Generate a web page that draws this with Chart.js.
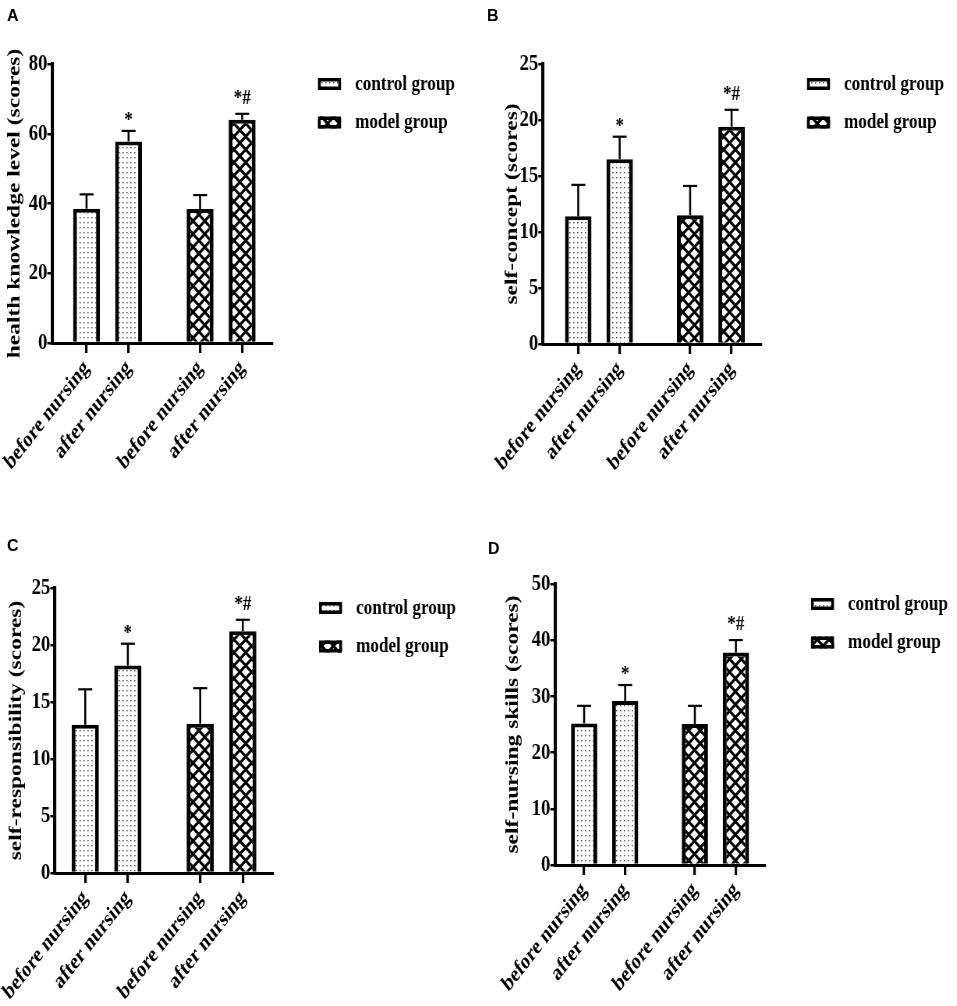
<!DOCTYPE html>
<html><head><meta charset="utf-8">
<script src="https://cdn.jsdelivr.net/npm/chart.js@4.4.1/dist/chart.umd.min.js"></script>
<style>
html,body{margin:0;padding:0;background:#fff;}
#wrap{position:relative;width:957px;height:1006px;overflow:hidden;background:#fff;}
.panel{position:absolute;overflow:visible;}
.panel canvas{position:absolute;left:0;top:0;transform-origin:0 0;}
.plabel{position:absolute;font:bold 16px 'Liberation Sans',Arial,sans-serif;line-height:1;color:#000;}
</style></head><body>
<div id="wrap"></div>
<script>
// ---------- data ----------
const categories = ['before nursing', 'after nursing', 'before nursing', 'after nursing'];
const groupNames = ['control group', 'model group'];
const panelLetters = ['A', 'B', 'C', 'D'];
const panelTitles = ['health knowledge level (scores)', 'self-concept (scores)', 'self-responsibility (scores)', 'self-nursing skills (scores)'];

const yTicksA = [0, 20, 40, 60, 80];
const yTicksB = [0, 5, 10, 15, 20, 25];
const yTicksC = [0, 5, 10, 15, 20, 25];
const yTicksD = [0, 10, 20, 30, 40, 50];

const controlMeanA = [38.5, 57.8];
const controlSdA = [4.4, 3.3];
const modelMeanA = [38.4, 64.0];
const modelSdA = [4.3, 2.0];

const controlMeanB = [11.4, 16.5];
const controlSdB = [2.9, 2.1];
const modelMeanB = [11.5, 19.4];
const modelSdB = [2.7, 1.6];

const controlMeanC = [13.0, 18.2];
const controlSdC = [3.2, 2.0];
const modelMeanC = [13.1, 21.2];
const modelSdC = [3.2, 1.1];

const controlMeanD = [25.2, 29.2];
const controlSdD = [3.3, 3.0];
const modelMeanD = [25.1, 37.8];
const modelSdD = [3.4, 2.4];

const controlMarks = ['', '*'];
const modelMarks = ['', '*#'];

// ---------- layout (reference pixel geometry) ----------
const S = 0.78;            // horizontal squeeze of the figure
const PANEL_H = 503;
const GROUP_STEP = 2.7;    // slot distance between the first bars of the two groups
const FONT = "'Liberation Serif','Times New Roman',serif";
const TITLE_SIZE = 23.5;

const layouts = [
  {left: 0,   top: 0,   w: 478, area: {l: 52, t: 64, r: 272, b: 343}, titleC: 15, xMin: -0.82, label: [7, 8]},
  {left: 478, top: 0,   w: 479, area: {l: 65, t: 64, r: 283, b: 344}, titleC: 34, xMin: -0.85, label: [487, 8]},
  {left: 0,   top: 503, w: 478, area: {l: 55, t: 85, r: 273, b: 370}, titleC: 16, xMin: -0.71, label: [7, 538]},
  {left: 478, top: 503, w: 479, area: {l: 77, t: 81, r: 287, b: 362}, titleC: 35, xMin: -0.71, label: [488, 541]}
];
const X_MAX = 4.41;

const panelData = [
  {yTicks: yTicksA, cm: controlMeanA, cs: controlSdA, mm: modelMeanA, ms: modelSdA},
  {yTicks: yTicksB, cm: controlMeanB, cs: controlSdB, mm: modelMeanB, ms: modelSdB},
  {yTicks: yTicksC, cm: controlMeanC, cs: controlSdC, mm: modelMeanC, ms: modelSdC},
  {yTicks: yTicksD, cm: controlMeanD, cs: controlSdD, mm: modelMeanD, ms: modelSdD}
];

const slots = categories.map((c, i) => Math.floor(i / 2) * GROUP_STEP + (i % 2));

// ---------- patterns ----------
function dotPattern(ctx) {
  const c = document.createElement('canvas');
  c.width = 5; c.height = 5;
  const g = c.getContext('2d');
  g.fillStyle = '#fff'; g.fillRect(0, 0, 5, 5);
  g.fillStyle = '#555'; g.fillRect(2, 2, 1.6, 1.4);
  return ctx.createPattern(c, 'repeat');
}
function diamondPattern(ctx) {
  const w = 15, h = 13, hw = 5.2, hh = 4.5;
  const c = document.createElement('canvas');
  c.width = w; c.height = h;
  const g = c.getContext('2d');
  g.fillStyle = '#000'; g.fillRect(0, 0, w, h);
  g.fillStyle = '#fff';
  const centers = [[w / 2, h / 2], [0, 0], [w, 0], [0, h], [w, h]];
  centers.forEach(([cx, cy]) => {
    g.beginPath();
    g.moveTo(cx, cy - hh); g.lineTo(cx + hw, cy); g.lineTo(cx, cy + hh); g.lineTo(cx - hw, cy);
    g.closePath(); g.fill();
  });
  return ctx.createPattern(c, 'repeat');
}

// ---------- plugins ----------
const errorBarPlugin = {
  id: 'errorBars',
  afterDatasetsDraw(chart) {
    const ctx = chart.ctx, xs = chart.scales.x, ys = chart.scales.y;
    ctx.save();
    ctx.strokeStyle = '#000';
    ctx.fillStyle = '#000';
    chart.data.datasets.forEach(ds => {
      ds.data.forEach((p, j) => {
        const x = xs.getPixelForValue(p.x);
        const y0 = ys.getPixelForValue(p.y);
        const y1 = ys.getPixelForValue(p.y + ds.errors[j]);
        ctx.lineWidth = 2 / S;
        ctx.beginPath(); ctx.moveTo(x, y0); ctx.lineTo(x, y1 + 1); ctx.stroke();
        ctx.lineWidth = 2.2;
        ctx.beginPath(); ctx.moveTo(x - 7 / S, y1 + 1); ctx.lineTo(x + 7 / S, y1 + 1); ctx.stroke();
        const mk = ds.marks[j];
        if (mk) {
          ctx.font = 'bold 22px ' + FONT;
          ctx.textAlign = 'center';
          ctx.textBaseline = 'alphabetic';
          const m = ctx.measureText(mk);
          ctx.fillText(mk, x, y1 - 9 - m.actualBoundingBoxDescent);
        }
      });
    });
    ctx.restore();
  }
};

const legendPlugin = {
  id: 'sideLegend',
  afterDraw(chart) {
    const ctx = chart.ctx, a = chart.chartArea;
    const bx = a.right + 46 / S, bw = 23 / S, bh = 12;
    ctx.save();
    chart.data.datasets.forEach((ds, i) => {
      const cy = a.top + 20 + i * 38.5;
      ctx.fillStyle = ds.backgroundColor;
      ctx.fillRect(bx, cy - bh / 2, bw, bh);
      ctx.strokeStyle = '#000';
      ctx.lineWidth = 3.5;
      ctx.strokeRect(bx + 1.75, cy - bh / 2 + 1.75, bw - 3.5, bh - 3.5);
      ctx.fillStyle = '#000';
      ctx.font = 'bold 22px ' + FONT;
      ctx.textAlign = 'left';
      ctx.textBaseline = 'middle';
      ctx.fillText(ds.label, bx + bw + 14 / S, cy);
    });
    ctx.restore();
  }
};

// ---------- build panels ----------
const wrap = document.getElementById('wrap');
layouts.forEach((L, k) => {
  const D = panelData[k];
  const div = document.createElement('div');
  div.className = 'panel';
  div.style.left = L.left + 'px'; div.style.top = L.top + 'px';
  div.style.width = L.w + 'px'; div.style.height = PANEL_H + 'px';
  const cv = document.createElement('canvas');
  const W = Math.round(L.w / S);
  cv.width = W; cv.height = PANEL_H;
  cv.style.width = W + 'px'; cv.style.height = PANEL_H + 'px';
  cv.style.transform = 'scaleX(' + S + ')';
  div.appendChild(cv);
  wrap.appendChild(div);

  const lab = document.createElement('div');
  lab.className = 'plabel';
  lab.style.left = L.label[0] + 'px'; lab.style.top = L.label[1] + 'px';
  lab.textContent = panelLetters[k];
  wrap.appendChild(lab);

  const ctx = cv.getContext('2d');
  const padL = L.titleC / S - TITLE_SIZE * 0.6;
  const yMax = D.yTicks[D.yTicks.length - 1];
  const bw = {top: 4, left: 5, right: 5, bottom: 0};

  new Chart(ctx, {
    type: 'bar',
    data: {
      datasets: [
        {
          label: groupNames[0],
          data: D.cm.map((v, j) => ({x: slots[j], y: v})),
          errors: D.cs, marks: controlMarks,
          backgroundColor: dotPattern(ctx),
          borderColor: '#000',
          borderWidth: bw,
          borderSkipped: 'bottom'
        },
        {
          label: groupNames[1],
          data: D.mm.map((v, j) => ({x: slots[j + 2], y: v})),
          errors: D.ms, marks: modelMarks,
          backgroundColor: diamondPattern(ctx),
          borderColor: '#000',
          borderWidth: bw,
          borderSkipped: 'bottom'
        }
      ]
    },
    options: {
      responsive: false,
      animation: false,
      events: [],
      grouped: false,
      barPercentage: 0.64,
      categoryPercentage: 1,
      layout: {padding: {left: padL, top: L.area.t, right: W - L.area.r / S, bottom: 0}},
      plugins: {legend: {display: false}, tooltip: {enabled: false}},
      scales: {
        x: {
          type: 'linear', min: L.xMin, max: X_MAX, offset: false,
          grid: {display: true, drawOnChartArea: false, drawTicks: true, tickLength: 10, color: '#000', lineWidth: 2.5 / S, offset: false},
          border: {display: true, color: '#000', width: 3},
          ticks: {autoSkip: false, maxRotation: 45, minRotation: 45, padding: 2, color: '#000',
            font: {family: FONT, weight: 'bold', size: 23},
            callback: (v, i) => categories[i]},
          afterBuildTicks: s => { s.ticks = slots.map(v => ({value: v})); },
          afterFit: s => { s.height = PANEL_H - L.area.b; s.paddingLeft = 0; s.paddingRight = 0; }
        },
        y: {
          min: 0, max: yMax,
          grid: {display: true, drawOnChartArea: false, drawTicks: true, tickLength: 6, color: '#000', lineWidth: 2.5},
          border: {display: true, color: '#000', width: 3.2 / S},
          ticks: {padding: 0, color: '#000', font: {family: FONT, weight: 'bold', size: 24}},
          afterBuildTicks: s => { s.ticks = D.yTicks.map(v => ({value: v})); },
          title: {display: true, text: panelTitles[k], color: '#000', padding: 0,
            font: {family: FONT, weight: 'bold', size: TITLE_SIZE}},
          afterFit: s => { s.width = L.area.l / S - padL; s.paddingTop = 0; s.paddingBottom = 0; }
        }
      }
    },
    plugins: [errorBarPlugin, legendPlugin]
  });
});
</script>
</body></html>
